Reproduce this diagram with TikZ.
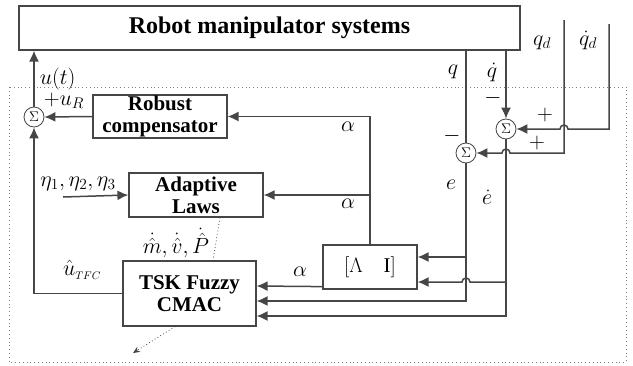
\RequirePackage{fix-cm}
\documentclass[tikz,border=0pt]{standalone}
\usepackage{fontspec}
\setmainfont{Liberation Serif}
\usetikzlibrary{arrows.meta,calc}
\definecolor{linec}{RGB}{70,70,70}
\tikzset{
  blk/.style={draw=linec, line width=1.2pt, inner sep=0pt, align=center,
    font=\bfseries\fontsize{21}{22}\selectfont},
  sumn/.style={circle, draw=linec, line width=0.8pt, minimum size=20pt, inner sep=0pt,
    font=\fontsize{14}{14}\selectfont},
  sig/.style={draw=linec, line width=1.5pt, -{Latex[length=11pt,width=10pt]}},
  wire/.style={draw=linec, line width=1.5pt},
  lbl/.style={font=\fontsize{22}{22}\selectfont, inner sep=0pt}
}
\begin{document}
\begin{tikzpicture}[x=1pt,y=-1pt]
	\useasboundingbox (0,0) rectangle (633,365);
	\draw[gray, line width=0.8pt, dash pattern=on 0.8pt off 3pt] (9,87) rectangle (626,362);
	% blocks
	\node[blk, minimum width=501pt, minimum height=44pt, font=\bfseries\fontsize{24}{24}\selectfont] (sys) at (269.5,28) {Robot manipulator systems};
	\node[blk, minimum width=134pt, minimum height=43pt] (rob) at (160,116.5) {Robust\\compensator};
	\node[blk, minimum width=134pt, minimum height=44pt] (adp) at (196,195) {Adaptive\\Laws};
	\node[blk, minimum width=133pt, minimum height=65pt] (tsk) at (189.5,293.5) {TSK Fuzzy\\CMAC};
	\node[blk, minimum width=94pt, minimum height=44pt, font=\fontsize{21}{21}\selectfont] (li) at (370,267) {$\left[\Lambda\quad\mathrm{I}\right]$};
	\node[sumn] (s0) at (34,117) {$\Sigma$};
	\node[sumn] (s1) at (506,129) {$\Sigma$};
	\node[sumn] (s2) at (466,153) {$\Sigma$};
	\coordinate (eta) at (63,197);
	\coordinate (qd) at (564,20);
	\coordinate (qdd) at (609,24);
	\coordinate (out) at (133,353);
	\coordinate (li1) at ([yshift=10pt]li.east);
	\coordinate (li2) at ([yshift=-15pt]li.east);
	% control loop
	\draw[sig] (s0.north) -- (s0.north |- sys.south) node[lbl, pos=0.5, right=5pt] {$u(t)$};
	\draw[sig] (rob.west) -- (s0.east);
	\draw[sig] (tsk.west) -| (s0.south);
	\draw[sig] (eta) -- (adp.west);
	\draw[sig] ([yshift=3pt]li.south west) -- ([yshift=7.5pt]tsk.east);
	\draw[sig] (li.north) |- (rob.east);
	\draw[sig] (li.north |- adp.east) -- (adp.east);
	% tracking errors
	\draw[wire] (sys.south -| s2.north) -- (s2.north);
	\draw[sig] (sys.south -| s1.north) -- (s1.north);
	\draw[sig] (qd) |- ([xshift=4pt]s1.south |- s2.east) arc[start angle=0, end angle=180, radius=4pt] -- (s2.east);
	\draw[sig] (qdd) |- ([xshift=4pt]qd |- s1.east) arc[start angle=0, end angle=180, radius=4pt] -- (s1.east);
	\draw[sig] (s2.south) |- ([yshift=-7.5pt]tsk.east);
	\draw[sig] (s1.south) |- ([yshift=-22.5pt]tsk.east);
	\draw[sig] (li1 -| s2.south) -- (li1);
	\draw[sig] (li2 -| s1.south) -- ([xshift=4pt]li2 -| s2.south) arc[start angle=0, end angle=180, radius=4pt] -- (li2);
	% parameter updates
	\draw[linec, line width=0.8pt, dash pattern=on 0.8pt off 2.5pt] ([xshift=24pt]adp.south) -- ([xshift=23.5pt]tsk.north);
	\draw[linec, line width=0.8pt, dash pattern=on 0.8pt off 2.5pt, -{Stealth[length=7pt,width=6pt]}] ([xshift=-14.5pt]tsk.south) -- (out);
	% labels
	\node[lbl] at (64,101) {$+u_R$};
	\node[lbl] at (82,270) {$\hat{u}_{\scriptscriptstyle TFC}$};
	\node[lbl] at (78,184) {$\eta_1,\eta_2,\eta_3$};
	\node[lbl] at (176,243) {$\dot{\hat{m}},\dot{\hat{v}},\dot{\hat{P}}$};
	\node[lbl] at (348,127) {$\alpha$};
	\node[lbl] at (348,204) {$\alpha$};
	\node[lbl] at (300,272) {$\alpha$};
	\node[lbl] at (453,72) {$q$};
	\node[lbl] at (492,72) {$\dot{q}$};
	\node[lbl] at (542,43) {$q_d$};
	\node[lbl] at (588,40) {$\dot{q}_d$};
	\node[lbl] at (452,136) {$-$};
	\node[lbl] at (493,98) {$-$};
	\node[lbl] at (545,115) {$+$};
	\node[lbl] at (537,143) {$+$};
	\node[lbl] at (451,185) {$e$};
	\node[lbl] at (487,197) {$\dot{e}$};
\end{tikzpicture}
\end{document}
